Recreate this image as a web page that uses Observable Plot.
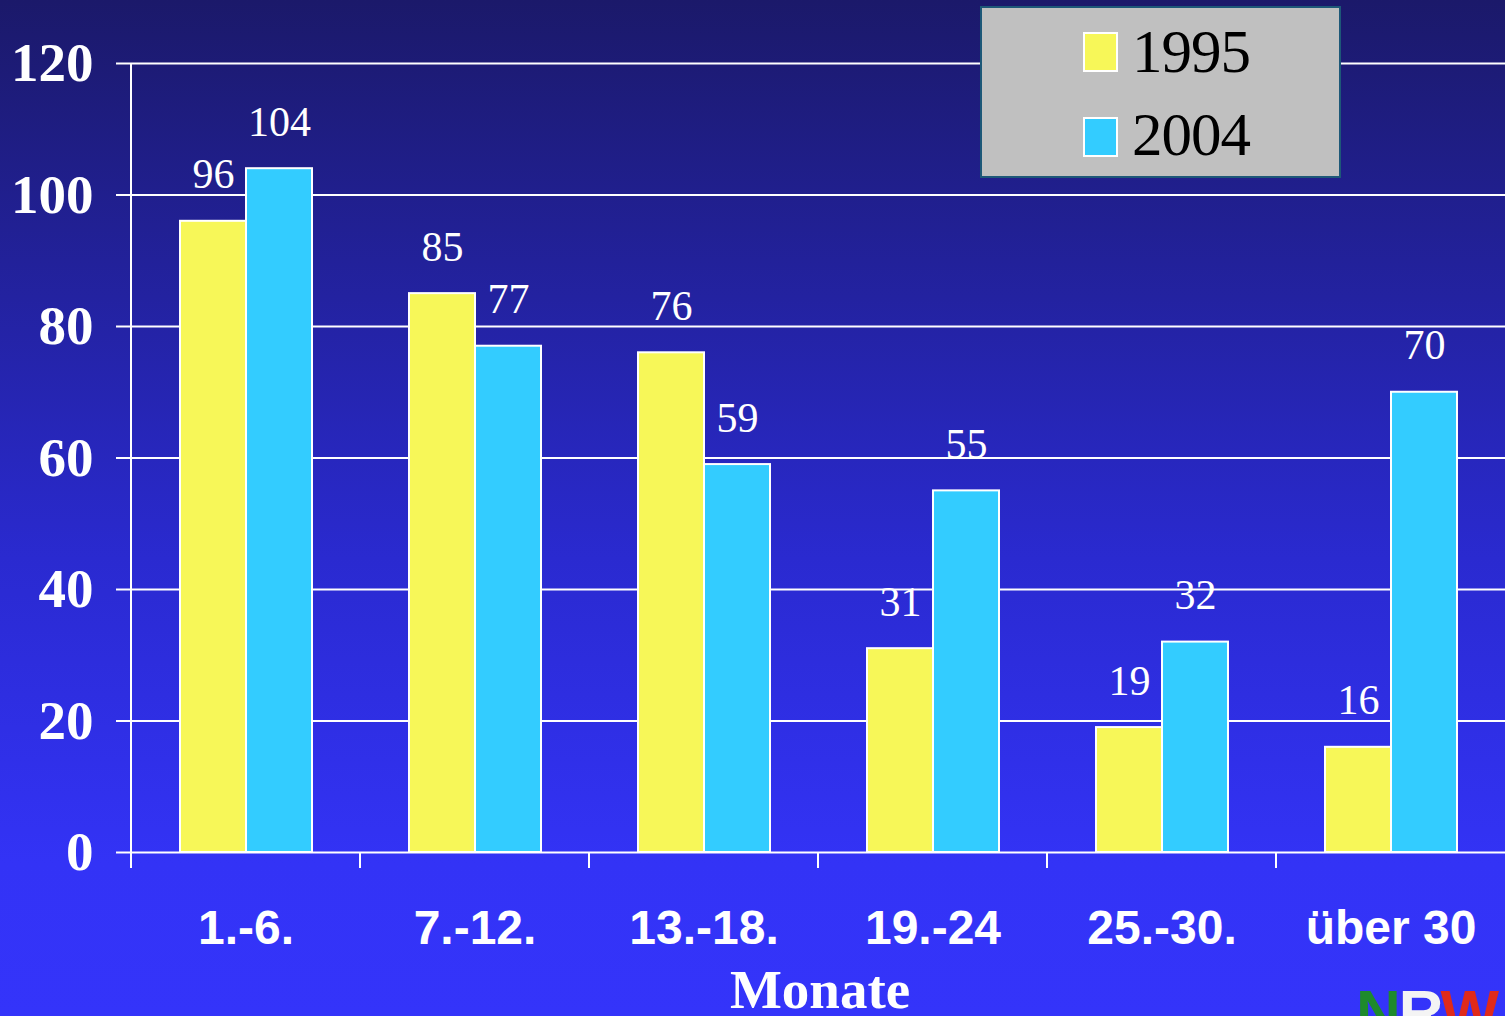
<!DOCTYPE html>
<html>
<head>
<meta charset="utf-8">
<script src="https://cdn.jsdelivr.net/npm/d3@7"></script>
<script src="https://cdn.jsdelivr.net/npm/@observablehq/plot@0.6"></script>
<style>
  html, body { margin: 0; padding: 0; }
  #wrap {
    position: relative; width: 1505px; height: 1016px; overflow: hidden;
    background: linear-gradient(to bottom, #1b196a 0%, #2a2ad0 55%, #3333f6 85%, #3434fa 100%);
  }
  #chart { position: absolute; left: 0; top: 0; }
  #legend {
    position: absolute; left: 980px; top: 6px; width: 357px; height: 168px;
    background: #c0c0c0; border: 2px solid #1d5878;
  }
  .sw { position: absolute; left: 101px; width: 31px; height: 36px; border: 2px solid #fff; }
  .lt { position: absolute; left: 150px; font-family: "Liberation Serif", serif; font-size: 61px; line-height: 61px; color: #000; letter-spacing: -1px; }
  #xlabel {
    position: absolute; left: 0; width: 1640px; top: 967px; text-align: center;
    font-family: "Liberation Serif", serif; font-weight: bold; font-size: 55px; line-height: 46px; color: #fff;
  }
  #logo {
    position: absolute; left: 1356px; top: 982px; font-family: "Liberation Sans", sans-serif;
    font-weight: bold; font-size: 62px; line-height: 60px; letter-spacing: -2px;
  }
</style>
</head>
<body>
<div id="wrap">
  <div id="chart"></div>
  <div id="legend">
    <div class="sw" style="top:24px;background:#f7f758"></div>
    <div class="lt" style="top:13px">1995</div>
    <div class="sw" style="top:109px;background:#33ccff"></div>
    <div class="lt" style="top:96px">2004</div>
  </div>
  <div id="xlabel">Monate</div>
  <div id="logo"><span style="color:#1e8a2c">N</span><span style="color:#f4f4f4">R</span><span style="color:#e02a1a">W</span></div>
</div>
<script>
const categories = ["1.-6.", "7.-12.", "13.-18.", "19.-24", "25.-30.", "über 30"];
const series = ["1995", "2004"];
const values1995 = [96, 85, 76, 31, 19, 16];
const values2004 = [104, 77, 59, 55, 32, 70];
const yTicks = [0, 20, 40, 60, 80, 100, 120];
const colors = ["#f7f758", "#33ccff"];

const data = categories.flatMap((c, i) => [
  {cat: c, year: series[0], value: values1995[i]},
  {cat: c, year: series[1], value: values2004[i]}
]);

const plot = Plot.plot({
  width: 1505,
  height: 1016,
  marginLeft: 130,
  marginRight: 0,
  marginTop: 63,
  marginBottom: 164,
  style: {background: "transparent", color: "white", overflow: "visible"},
  fx: {domain: categories, padding: 0, axis: null},
  x: {domain: series, paddingInner: 0, paddingOuter: 0.73, axis: null},
  y: {domain: [0, 120], axis: null},
  color: {domain: series, range: colors},
  marks: [
    Plot.ruleY(yTicks, {stroke: "white", strokeWidth: 2, strokeOpacity: 1}),
    Plot.barY(data, {fx: "cat", x: "year", y: "value", fill: "year", stroke: "white", strokeWidth: 2}),
    Plot.text(data, {fx: "cat", x: "year", y: "value", text: d => String(d.value), lineAnchor: "bottom", dy: -33,
      fill: "white", fontSize: 42, fontFamily: "Liberation Serif, serif", letterSpacing: -1}),
    Plot.axisY(yTicks, {tickSize: 15, tickPadding: 23, stroke: "white", strokeWidth: 2, strokeOpacity: 1,
      fill: "white", fontSize: 55, fontWeight: "bold", fontFamily: "Liberation Serif, serif", label: null}),
    Plot.axisFx({anchor: "bottom", tickSize: 0, tickPadding: 57, fill: "white", fontSize: 48,
      fontWeight: "bold", fontFamily: "Liberation Sans, Arial, sans-serif", label: null})
  ]
});

document.getElementById("chart").appendChild(plot);

// Axis line and category boundary ticks, positioned via Plot's own scales
const svg = plot.tagName.toLowerCase() === "svg" ? plot : plot.querySelector("svg");
const fx = plot.scale("fx"), y = plot.scale("y");
const g = d3.select(svg).append("g").attr("stroke", "white").attr("stroke-width", 2);
const x0 = fx.apply(categories[0]);
g.append("line").attr("x1", x0).attr("x2", x0).attr("y1", y.apply(120)).attr("y2", y.apply(0) + 16);
categories.slice(1).forEach(c => {
  const xx = fx.apply(c);
  g.append("line").attr("x1", xx).attr("x2", xx).attr("y1", y.apply(0)).attr("y2", y.apply(0) + 16);
});
</script>
</body>
</html>
